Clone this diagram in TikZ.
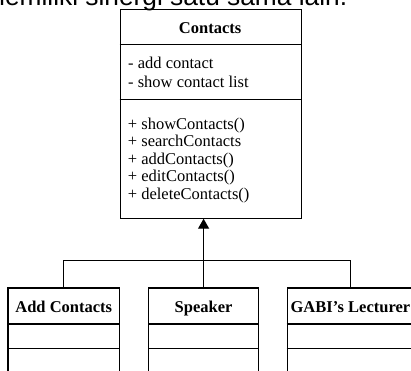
\documentclass[tikz,border=0pt]{standalone}
\usepackage{fontspec}
\setmainfont{Liberation Serif}
\newfontfamily\capfont{Liberation Sans}
\usetikzlibrary{arrows.meta,positioning}

\begin{document}
\begin{tikzpicture}[x=1pt,y=-1pt,
	classbox/.style={draw,line width=1.2pt,rectangle,inner sep=0pt,anchor=north west},
	classtitle/.style={anchor=base,inner sep=0pt,font=\fontsize{16.5}{19}\bfseries},
	member/.style={anchor=base west,inner sep=0pt,font=\fontsize{16.5}{19}\selectfont},
	link/.style={line width=1.2pt}]
			\path[use as bounding box,clip](0,0) rectangle (411,370);
			\node at (-17,5.5) [anchor=base west,inner sep=0pt] {{\capfont\fontsize{26.3}{30}\selectfont memiliki sinergi satu sama lain.}};
			% parent class
			\node[classbox,minimum width=181.2pt,minimum height=208.5pt] (contacts) at (119.5,9) {};
			\draw[link](contacts.west |- 0,44.5)--(contacts.east |- 0,44.5);
			\draw[link](contacts.west |- 0,99.3)--(contacts.east |- 0,99.3);
			\node[classtitle] (contactstitle) at (210.1,33) {Contacts};
			\node[member] (attr1) at (128,68.3) {- add contact};
			\node[member] (attr2) at (128,87.3) {- show contact list};
			\foreach \m [count=\i] in {showContacts(),searchContacts,addContacts(),editContacts(),deleteContacts()}
				\node[member] (meth\i) at (127.7,111.4+17.6*\i) {+ \m};
			% child classes
			\node[classbox,minimum width=111.7pt,minimum height=100pt] (addc) at (7.3,287.3) {};
			\node[classbox,minimum width=110pt,minimum height=100pt] (speaker) at (148,287.3) {};
			\node[classbox,minimum width=126.3pt,minimum height=100pt] (lecturer) at (286.7,287.3) {};
			\foreach \c in {addc,speaker,lecturer}{
				\draw[link](\c.west |- 0,324)--(\c.east |- 0,324);
				\draw[link](\c.west |- 0,348.3)--(\c.east |- 0,348.3);
			}
			\node[classtitle] (addctitle) at (addc.north |- 0,312.3) {Add Contacts};
			\node[classtitle] (speakertitle) at (speaker.north |- 0,312.3) {Speaker};
			\node[classtitle] (lecturertitle) at (lecturer.north |- 0,312.3) {GABI{\char"27}s Lecturer};
			% inheritance
			\coordinate (bus) at (speaker.north |- 0,260.5);
			\draw[link](addc.north)--(addc.north |- bus)--(lecturer.north |- bus)--(lecturer.north);
			\draw[link,-{Triangle[length=10pt,width=11pt]}](speaker.north)--(speaker.north |- contacts.south);
		\end{tikzpicture}
\end{document}
